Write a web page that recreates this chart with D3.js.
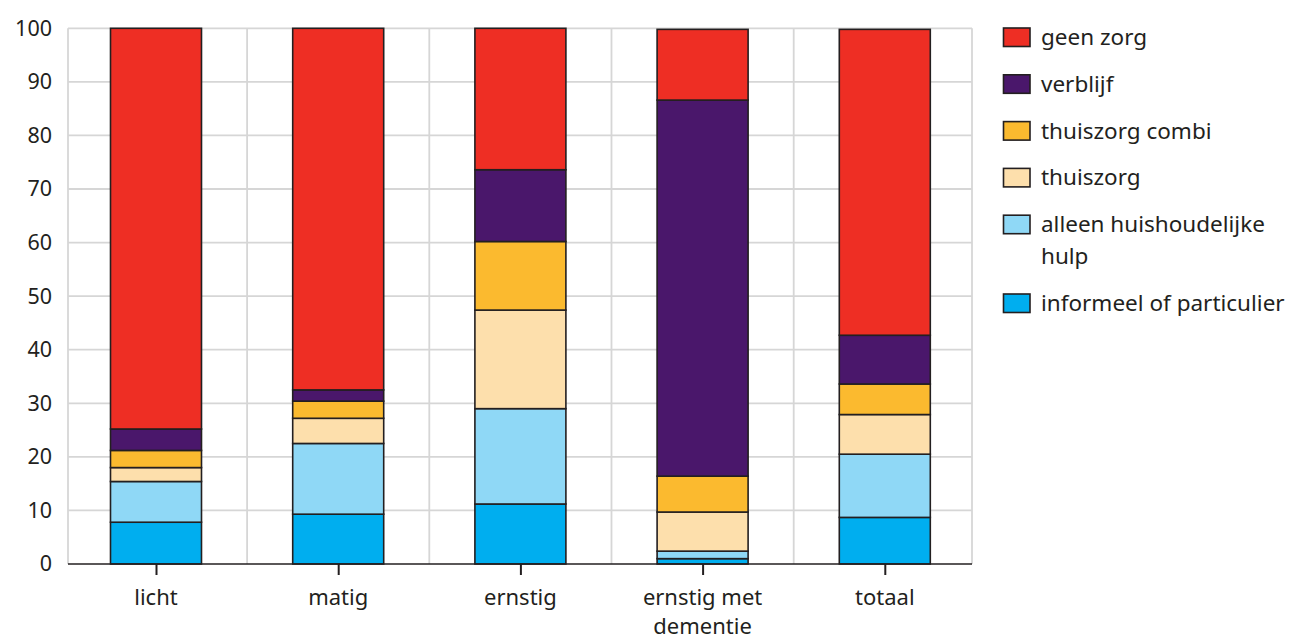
<!DOCTYPE html>
<html>
<head>
<meta charset="utf-8">
<script src="https://cdn.jsdelivr.net/npm/d3@7"></script>
<style>
  html, body { margin: 0; padding: 0; background: #fff; }
  svg { display: block; }
  text {
    font-family: "Noto Sans", "Open Sans", sans-serif;
    fill: #231f20;
  }
</style>
</head>
<body>
<svg id="chart" width="1292" height="639"></svg>
<script>
// Care type shares (%) per severity group
const categories = ["licht", "matig", "ernstig", "ernstig met dementie", "totaal"];

const informeel     = [7.8, 9.3, 11.2, 1.0, 8.7];
const huishoudelijk = [7.6, 13.2, 17.8, 1.4, 11.8];
const thuiszorg     = [2.6, 4.7, 18.4, 7.3, 7.4];
const thuiszorgCombi= [3.2, 3.2, 12.8, 6.7, 5.7];
const verblijf      = [4.0, 2.1, 13.4, 70.2, 9.1];
const geenZorg      = [74.8, 67.5, 26.4, 13.2, 57.1];

// Stack order, bottom to top
const seriesKeys   = ["informeel", "huishoudelijk", "thuiszorg", "thuiszorgCombi", "verblijf", "geenZorg"];
const seriesLabels = ["informeel of particulier", "alleen huishoudelijke hulp", "thuiszorg",
                      "thuiszorg combi", "verblijf", "geen zorg"];
const seriesValues = [informeel, huishoudelijk, thuiszorg, thuiszorgCombi, verblijf, geenZorg];
const seriesColors = ["#00aeef", "#8fd8f6", "#fddfac", "#fbba2f", "#4a176b", "#ee2e24"];

const yTicks = [0, 10, 20, 30, 40, 50, 60, 70, 80, 90, 100];

const rows = categories.map((c, i) => {
  const r = { cat: c };
  seriesKeys.forEach((k, j) => { r[k] = seriesValues[j][i]; });
  return r;
});

const svg = d3.select("#chart");
const x0 = 68, x1 = 972;          // plot frame
const yTop = 28.3, yBot = 564;

// bar centres, evenly spaced inside the frame
const step = 182.2;
const xc = d3.scalePoint().domain(categories).range([156, 156 + step * 4]);
const barW = 91;
const y = d3.scaleLinear().domain([0, 100]).range([yBot, yTop]);

// grid: horizontal lines at each tick
svg.append("g").selectAll("line").data(yTicks.filter(t => t > 0)).join("line")
  .attr("x1", x0).attr("x2", x1)
  .attr("y1", d => y(d)).attr("y2", d => y(d))
  .attr("stroke", "#d6d6d6").attr("stroke-width", 1.8);

// grid: vertical lines at the frame edges and halfway between bars
const bounds = [x0].concat(categories.slice(1).map(c => xc(c) - step / 2), [x1]);
svg.append("g").selectAll("line").data(bounds).join("line")
  .attr("x1", d => d).attr("x2", d => d)
  .attr("y1", yTop).attr("y2", yBot)
  .attr("stroke", "#d6d6d6").attr("stroke-width", 1.8);

// stacked bars
const stack = d3.stack().keys(seriesKeys)(rows);
svg.append("g").selectAll("g").data(stack).join("g")
  .attr("fill", (d, i) => seriesColors[i])
  .selectAll("rect").data(d => d).join("rect")
  .attr("x", d => xc(d.data.cat) - barW / 2)
  .attr("width", barW)
  .attr("y", d => y(d[1]))
  .attr("height", d => y(d[0]) - y(d[1]))
  .attr("stroke", "#231f20").attr("stroke-width", 1.6);

// x axis
const xAxis = svg.append("g").attr("transform", `translate(0,${yBot})`)
  .call(d3.axisBottom(xc).tickSize(11).tickSizeOuter(0).tickFormat(""));
xAxis.select(".domain").attr("stroke", "#231f20").attr("stroke-width", 1.6)
  .attr("d", `M${x0},0H${x1}`);
xAxis.selectAll(".tick line").attr("stroke", "#231f20").attr("stroke-width", 2);

// labels wrapped to several lines when too wide
function wrapLines(str, maxWidth, fontSize) {
  const words = str.split(" ");
  const tmp = svg.append("text").attr("font-size", fontSize);
  const lines = [];
  let cur = "";
  words.forEach(w => {
    const test = cur ? cur + " " + w : w;
    tmp.text(test);
    if (tmp.node().getComputedTextLength() > maxWidth && cur) {
      lines.push(cur); cur = w;
    } else cur = test;
  });
  if (cur) lines.push(cur);
  tmp.remove();
  return lines;
}

const xLabelSize = 22;
categories.forEach(c => {
  const lines = wrapLines(c, 140, xLabelSize);
  const t = svg.append("text")
    .attr("font-size", xLabelSize)
    .attr("text-anchor", "middle")
    .attr("y", 605);
  lines.forEach((l, i) => {
    t.append("tspan").attr("x", xc(c))
      .attr("dy", i === 0 ? 0 : 29).text(l);
  });
});

// y axis labels
const yAxis = svg.append("g").attr("transform", `translate(${x0},0)`)
  .call(d3.axisLeft(y).tickValues(yTicks).tickSize(0).tickPadding(16));
yAxis.select(".domain").remove();
yAxis.selectAll("text")
  .attr("font-size", 21.5)
  .attr("font-family", "Noto Sans, Open Sans, sans-serif")
  .attr("fill", "#231f20");

// legend, top entry is the top of the stack
const legend = svg.append("g");
const legendItems = seriesKeys.map((k, i) => ({ label: seriesLabels[i], color: seriesColors[i] })).reverse();
const legendSize = 22.5;
let ly = 28;
legendItems.forEach(item => {
  const lines = wrapLines(item.label, 250, legendSize);
  legend.append("rect")
    .attr("x", 1003.5).attr("y", ly)
    .attr("width", 26.5).attr("height", 18.5)
    .attr("fill", item.color)
    .attr("stroke", "#231f20").attr("stroke-width", 1.6);
  const t = legend.append("text").attr("font-size", legendSize).attr("y", ly + 17);
  lines.forEach((l, i) => {
    t.append("tspan").attr("x", 1041).attr("dy", i === 0 ? 0 : 32).text(l);
  });
  ly += 46.8 + (lines.length - 1) * 32;
});
</script>
</body>
</html>
